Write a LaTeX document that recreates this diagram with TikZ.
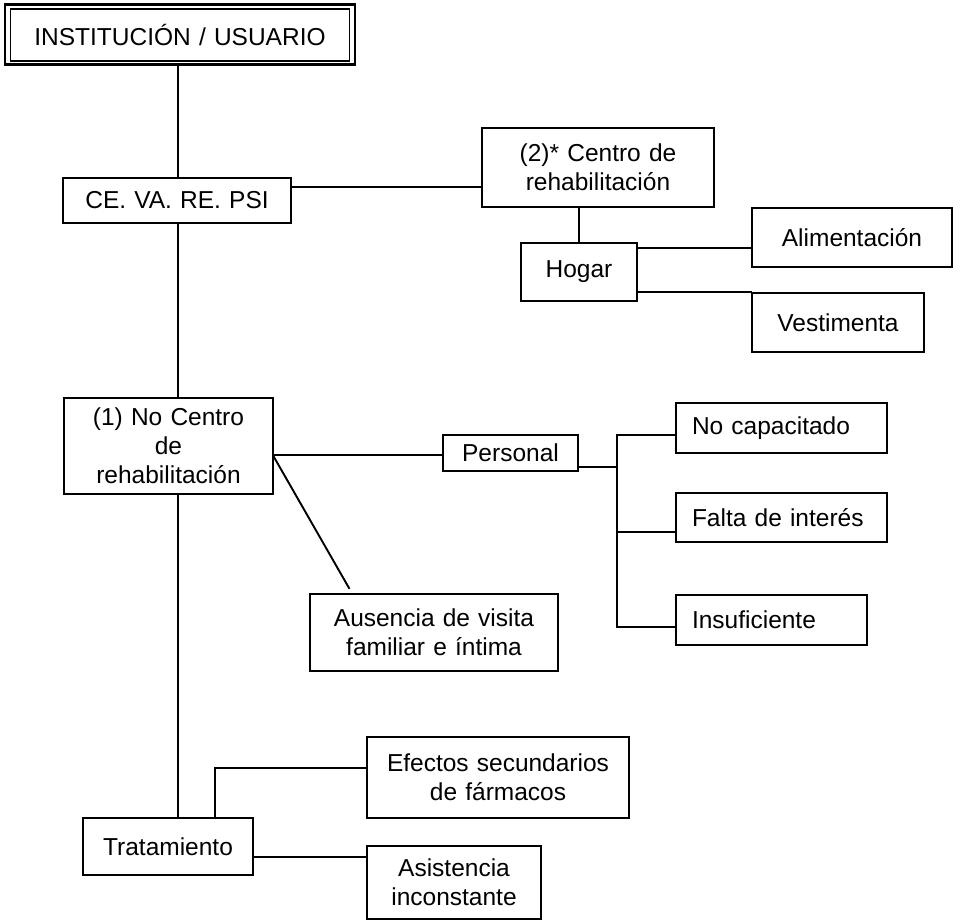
\documentclass[tikz,border=0pt]{standalone}
\usepackage{fontspec}
\setmainfont{Liberation Sans}
\begin{document}
\begin{tikzpicture}[x=1pt,y=-1pt,
  box/.style={draw, line width=1.9pt, inner sep=0pt, align=center,
    font=\fontsize{24.5}{29}\selectfont},
  lbox/.style={box, align=left, inner xsep=16pt},
  link/.style={draw, line width=1.9pt, line cap=rect}]
\useasboundingbox (0,0) rectangle (961,921);

% main column and helper x positions
\coordinate (spine) at (178,0);
\coordinate (br) at (617,0);
\coordinate (tb) at (215,0);

% boxes
\node[box, line width=2.6pt, minimum height=60pt, text width=350pt] (inst) at (180,34.5) {INSTITUCIÓN / USUARIO};
\draw[line width=1.5pt] ([shift={(7pt,-6pt)}]inst.north west) rectangle ([shift={(-7pt,5pt)}]inst.south east);

\node[box, minimum height=45pt, text width=228pt] (ce) at (177,200.5) {CE. VA. RE. PSI};
\node[box, minimum height=79pt, text width=232pt] (centro) at (598,167.5) {(2)* Centro de\\rehabilitación};
\node[box, minimum height=58pt, text width=116pt] (hogar) at (579,272) {Hogar};
\node[box, minimum height=59pt, text width=200pt] (alim) at (852,237.5) {Alimentación};
\node[box, minimum height=59pt, text width=172pt] (vest) at (838,322.5) {Vestimenta};

\node[box, minimum height=96pt, text width=209pt] (nocentro) at (168.5,446) {(1) No Centro\\de\\rehabilitación};
\node[box, minimum height=36pt, text width=135pt] (personal) at (510.5,453) {Personal};
\node[box, minimum height=77pt, text width=248pt] (ausencia) at (434,632.5) {Ausencia de visita\\familiar e íntima};

\node[lbox, minimum height=50pt, text width=179pt] (nocap) at (781.5,428) {No capacitado};
\node[lbox, minimum height=49pt, text width=179pt] (falta) at (781.5,517.5) {Falta de interés};
\node[lbox, minimum height=50pt, text width=159pt] (insuf) at (771.5,620) {Insuficiente};

\node[box, minimum height=57pt, text width=170pt] (trat) at (168,846.5) {Tratamiento};
\node[box, minimum height=81pt, text width=262pt] (efectos) at (498,777.5) {Efectos secundarios\\de fármacos};
\node[box, minimum height=73pt, text width=174pt] (asist) at (454,882.5) {Asistencia\\inconstante};

% free end of the slanted connector
\coordinate (austip) at (349,588);

% connectors
\draw[link] (spine |- inst.south) -- (spine |- ce.north);
\draw[link] (spine |- ce.south) -- (spine |- nocentro.north);
\draw[link] (spine |- nocentro.south) -- (spine |- trat.north);

\draw[link] (ce.east |- 0,187) -- (centro.west |- 0,187);
\draw[link] (hogar.north) -- (hogar.north |- centro.south);
\draw[link] (hogar.east |- 0,248) -- (alim.west |- 0,248);
\draw[link] (hogar.east |- vest.north) -- (vest.north west);

\draw[link] (nocentro.east |- 0,455) -- (personal.west |- 0,455);
\draw[link] (nocentro.east |- 0,457) -- (austip);

\draw[link] (personal.east |- 0,467) -- (br |- 0,467);
\draw[link] (nocap.west |- 0,435) -| (br |- 0,627) -- (insuf.west |- 0,627);
\draw[link] (br |- 0,532) -- (falta.west |- 0,532);

\draw[link] (tb |- trat.north) |- (efectos.west |- 0,768);
\draw[link] (trat.east |- 0,857) -- (asist.west |- 0,857);
\end{tikzpicture}
\end{document}
